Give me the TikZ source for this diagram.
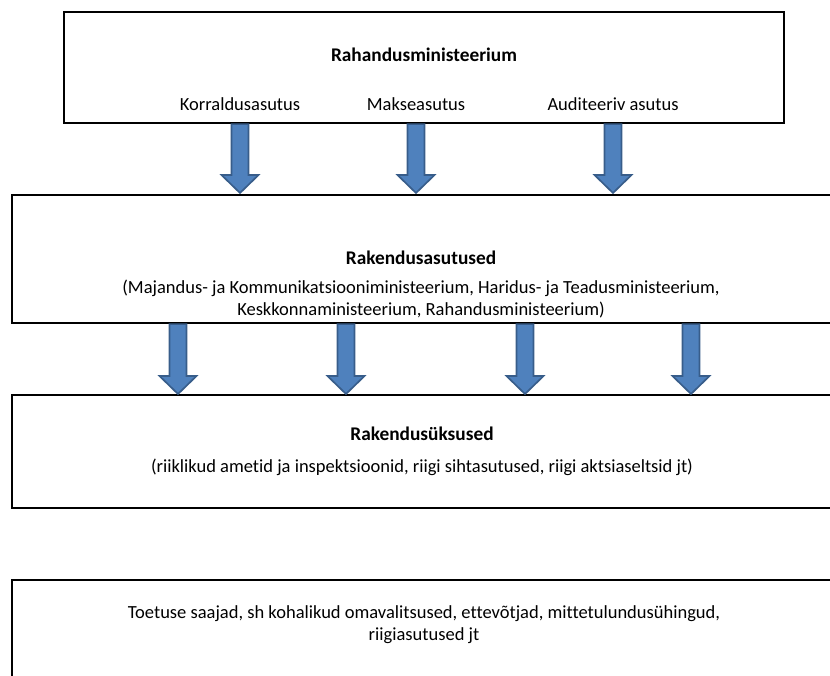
\documentclass[tikz,border=0pt]{standalone}
\usepackage{fontspec}
\setmainfont[Ligatures={NoCommon}]{Carlito}
\usepackage{tikz}
\usetikzlibrary{calc}
\definecolor{ArrowFill}{HTML}{4F81BD}
\definecolor{ArrowEdge}{HTML}{385D8A}

% block arrow between two points
\newcommand{\flowarrow}[2]{%
  \draw[flow] ($(#1)+(-8.5,0)$) -- ($(#2)+(-8.5,-18)$) -- ($(#2)+(-18.5,-18)$)
    -- (#2) -- ($(#2)+(18.5,-18)$) -- ($(#2)+(8.5,-18)$) -- ($(#1)+(8.5,0)$) -- cycle;}

\begin{document}
\begin{tikzpicture}[
    x=0.6pt, y=-0.6pt,
    box/.style={draw=black, line width=1.3pt, inner sep=0pt},
    flow/.style={fill=ArrowFill, draw=ArrowEdge, line width=1pt, line join=miter},
    head/.style={font=\fontsize{11.6}{14}\selectfont\bfseries},
    txt/.style={font=\fontsize{11.1}{13.2}\selectfont, align=center, inner sep=0pt}
]
\useasboundingbox (0,0) rectangle (830,675);
\clip (0,0) rectangle (830,675);

% Boxes
\node[box, minimum width=432pt, minimum height=66.6pt] (rm) at (424,67.5) {};
\node[box, minimum width=491.4pt, minimum height=76.8pt] (ra) at (421.5,259) {};
\node[box, minimum width=491.4pt, minimum height=67.8pt] (ru) at (421.5,451.5) {};
\node[box, minimum width=491.4pt, minimum height=72pt] (ts) at (421.5,640) {};

% Texts
\node[head] (rmt) at (424,55) {Rahandusministeerium};
\node[txt] (korr) at (240,104) {Korraldusasutus};
\node[txt] (makse) at (416,104) {Makseasutus};
\node[txt] (audit) at (613,104) {Auditeeriv asutus};

\node[head] (rat) at (421,258) {Rakendusasutused};
\node[txt] (ram) at (421,299) {(Majandus- ja Kommunikatsiooniministeerium, Haridus- ja Teadusministeerium,\\Keskkonnaministeerium, Rahandusministeerium)};

\node[head] (rut) at (422,434) {Rakendusüksused};
\node[txt] (rum) at (422,467) {(riiklikud ametid ja inspektsioonid, riigi sihtasutused, riigi aktsiaseltsid jt)};

\node[txt] (tsm) at (424,625) {Toetuse saajad, sh kohalikud omavalitsused, ettevõtjad, mittetulundusühingud,\\riigiasutused jt};

% Arrows, row 1
\coordinate (a1) at (240,193);
\coordinate (a2) at (416,193);
\coordinate (a3) at (613,193);
\flowarrow{korr |- rm.south}{a1}
\flowarrow{makse |- rm.south}{a2}
\flowarrow{audit |- rm.south}{a3}

% Arrows, row 2
\foreach \i/\xx in {1/178, 2/346, 3/525, 4/691}{
  \coordinate (b\i) at (\xx,394);
  \flowarrow{b\i |- ra.south}{b\i}
}
\end{tikzpicture}
\end{document}
